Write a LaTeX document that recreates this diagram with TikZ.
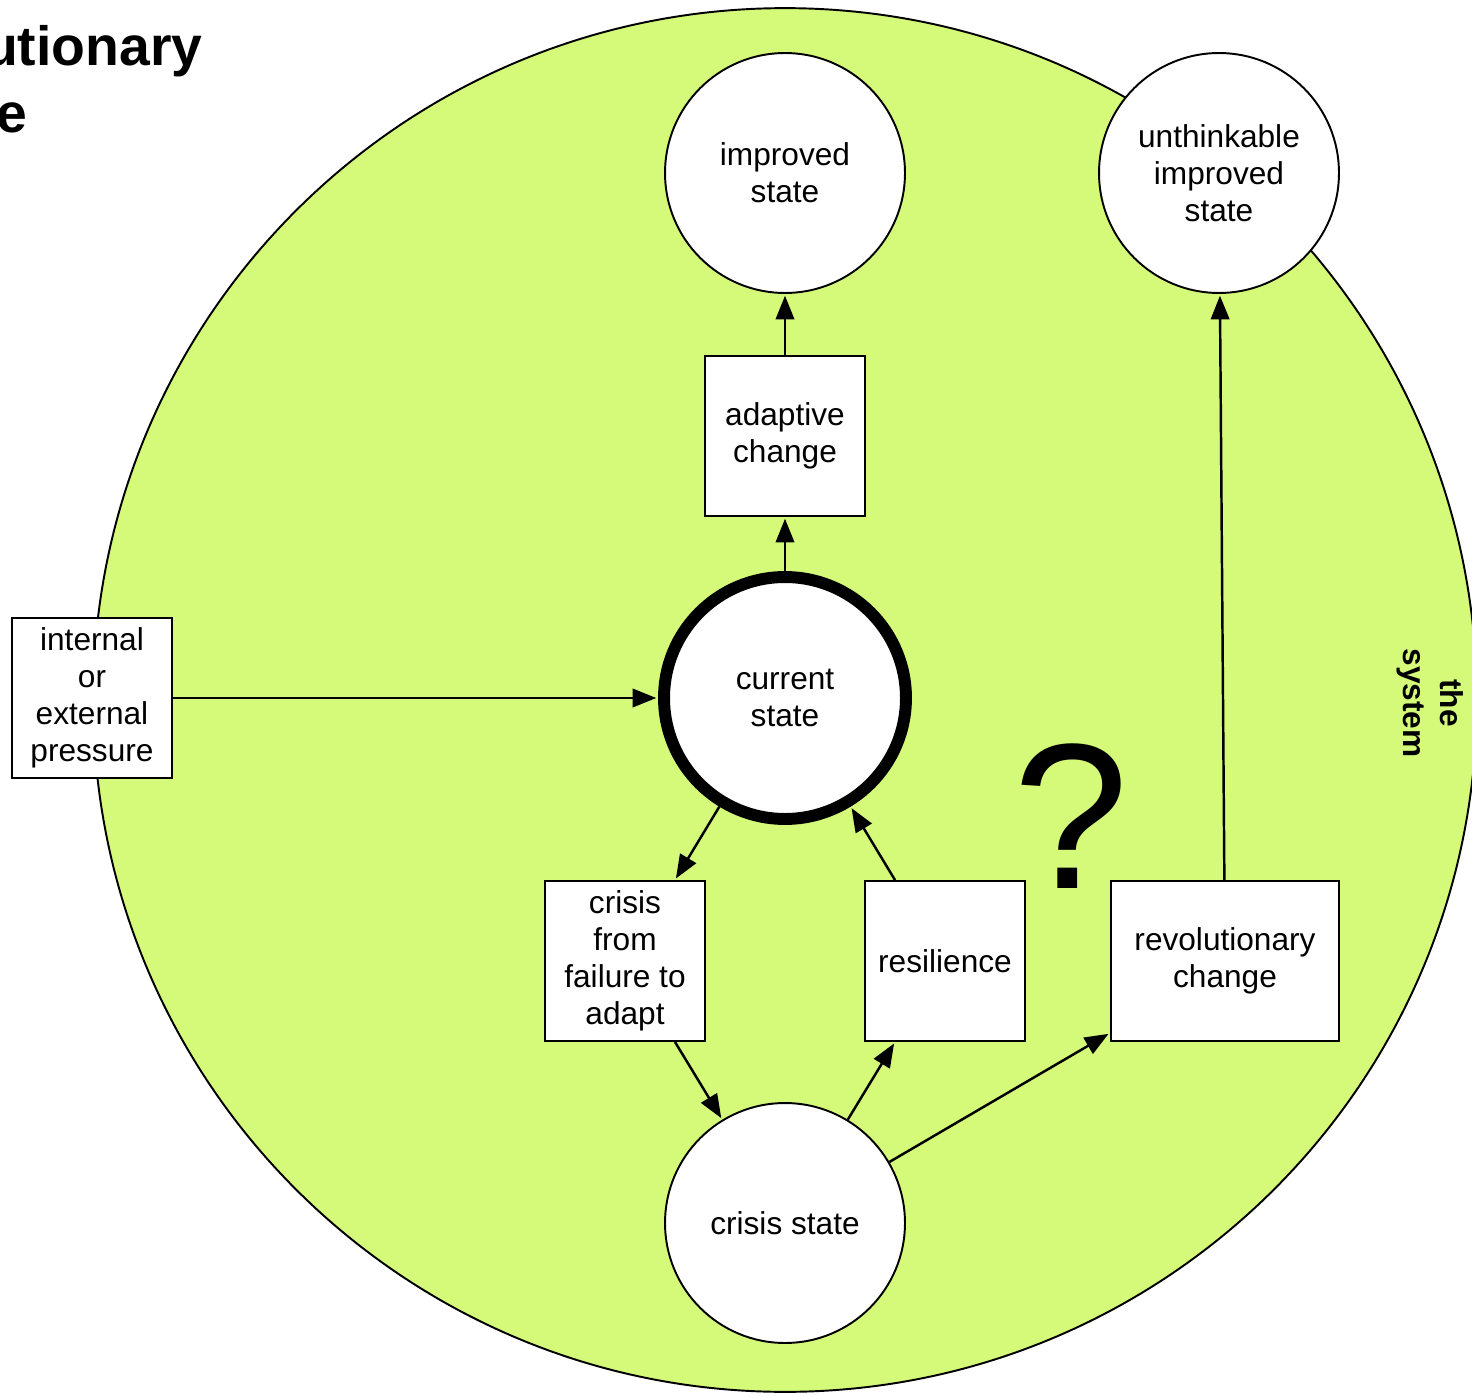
\documentclass[tikz,border=0pt]{standalone}
\usepackage{fontspec}
\setmainfont{Liberation Sans}
\usetikzlibrary{arrows.meta, positioning, calc}
\definecolor{systemgreen}{RGB}{213,250,122}

\begin{document}
\begin{tikzpicture}[x=0.02cm, y=-0.02cm,
    state/.style={circle, draw, fill=white, line width=1.1pt, minimum size=4.8cm, inner sep=0pt, align=center, font=\fontsize{18}{21}\selectfont},
    stage/.style={rectangle, draw, fill=white, line width=1.1pt, minimum width=3.2cm, minimum height=3.2cm, inner sep=2pt, align=center, font=\fontsize{18}{21}\selectfont},
    link/.style={line width=1.4pt, -{Triangle[length=13.5pt, width=10.5pt]}, shorten >=1pt}]
        \useasboundingbox (0,0) rectangle (1472,1396);

        % The system
        \draw[line width=1.1pt, fill=systemgreen] (785,700) circle (13.84cm);
        \node[font=\bfseries\fontsize{18}{21}\selectfont, align=center, rotate=-90] (sys) at (1430,703) {the\\system};

        % Title (runs off the page on the left)
        \node[anchor=base west, font=\bfseries\fontsize{31.5}{38}\selectfont, align=left, inner sep=0pt] (title) at (-167,132) {Revolutionary\\change};

        % States
        \node[state] (improved) at (785,173) {improved\\state};
        \node[state] (unthink) at (1219,173) {unthinkable\\improved\\state};
        \node[state, line width=6.8pt, minimum size=4.84cm] (current) at (785,698) {current\\state};
        \node[state] (crisis) at (785,1223) {crisis state};

        % Changes
        \node[stage] (adaptive) at (785,436) {adaptive\\change};
        \node[stage] (pressure) at (92,698) {internal\\or\\external\\pressure};
        \node[stage] (failure) at (625,961) {crisis\\from\\failure to\\adapt};
        \node[stage] (resilience) at (945,961) {resilience};
        \node[stage, minimum width=4.56cm] (revolution) at (1225,961) {revolutionary\\change};

        % Question
        \node[anchor=base, font=\fontsize{118}{118}\selectfont, inner sep=0pt] (query) at (1071,888) {?};

        % Links
        \draw[link] (pressure) -- (current);
        \draw[link] (current) -- (adaptive);
        \draw[link] (adaptive) -- (improved);
        \draw[link] (current) -- ([xshift=1cm]failure.north);
        \draw[link] ([xshift=1cm]failure.south) -- (crisis);
        \draw[link] (crisis) -- ([xshift=-1cm]resilience.south);
        \draw[link] ([xshift=-1cm]resilience.north) -- (current);
        \draw[link] (crisis) -- ([yshift=0.18cm]revolution.south west);
        \draw[link] (revolution) -- (unthink);
\end{tikzpicture}
\end{document}
